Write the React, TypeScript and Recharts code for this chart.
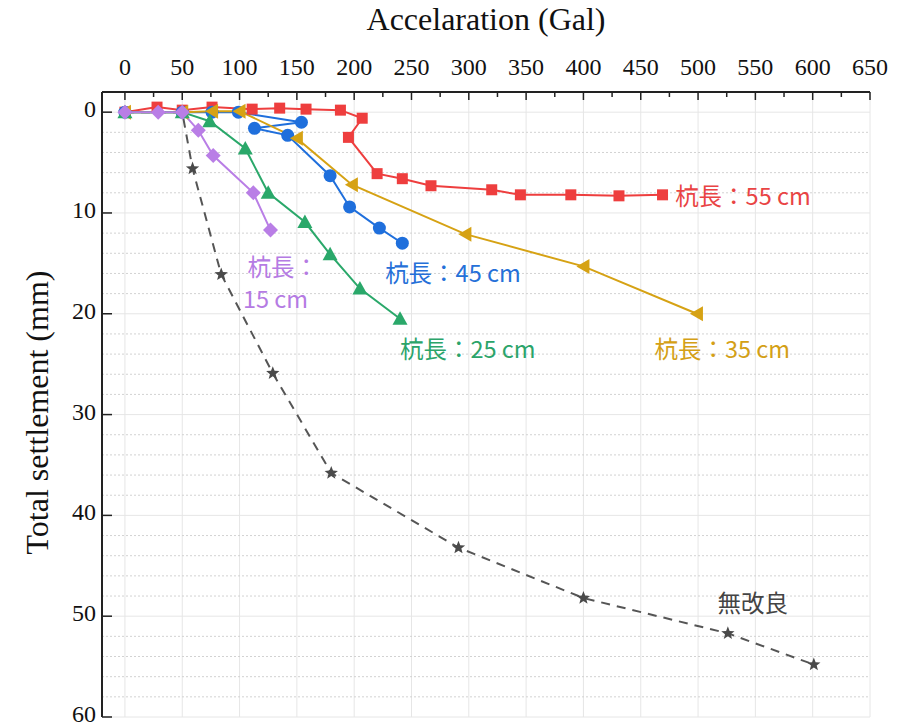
import React from 'react';
import {
  ComposedChart,
  Line,
  XAxis,
  YAxis,
  CartesianGrid,
  ReferenceDot,
} from 'recharts';

// acceleration (Gal) and total settlement (mm) per pile length
const pile55Acc = [0, 28, 50, 76, 111, 135, 158, 188, 207, 195, 220, 242, 267, 320, 345, 389, 431, 469];
const pile55Set = [0, -0.5, -0.2, -0.5, -0.3, -0.4, -0.3, -0.2, 0.6, 2.5, 6.1, 6.6, 7.3, 7.7, 8.2, 8.2, 8.3, 8.2];

const pile45Acc = [0, 50, 76, 99, 154, 113, 142, 179, 196, 222, 242];
const pile45Set = [0, 0, 0, 0, 1.0, 1.6, 2.3, 6.3, 9.4, 11.5, 13.0];

const pile35Acc = [0, 50, 76, 100, 150, 198, 297, 400, 499];
const pile35Set = [0, 0, -0.1, -0.1, 2.6, 7.2, 12.1, 15.3, 20.0];

const pile25Acc = [0, 50, 74, 105, 125, 157, 179, 205, 240];
const pile25Set = [0, 0, 0.9, 3.6, 8.0, 10.9, 14.1, 17.5, 20.5];

const pile15Acc = [0, 29, 50, 64, 77, 112, 127];
const pile15Set = [0, 0, 0, 1.8, 4.3, 8.0, 11.7];

const noneAcc = [0, 50, 59, 84, 129, 180, 291, 400, 526, 601];
const noneSet = [0, 0, 5.6, 16.1, 25.9, 35.8, 43.2, 48.2, 51.7, 54.8];

// axis ticks
const accTicks = [0, 25, 50, 75, 100, 125, 150, 175, 200, 225, 250, 275, 300, 325, 350, 375, 400, 425, 450, 475, 500, 525, 550, 575, 600, 625, 650];
const accGrid = [0, 50, 100, 150, 200, 250, 300, 350, 400, 450, 500, 550, 600, 650];
const setTicks = [0, 10, 20, 30, 40, 50, 60];
const setMinor = [2, 4, 6, 8, 12, 14, 16, 18, 22, 24, 26, 28, 32, 34, 36, 38, 42, 44, 46, 48, 52, 54, 56, 58];

// in-plot annotations (anchored in data units)
const noteText = ['杭長：55 cm', '杭長：45 cm', '杭長：', '15 cm', '杭長：25 cm', '杭長：35 cm', '無改良'];
const noteAcc = [480, 227, 107, 103, 240, 462, 517];
const noteSet = [8.2, 15.9, 15.3, 18.4, 23.4, 23.4, 48.6];
const noteColor = ['#e94444', '#2570d8', '#b57be3', '#b57be3', '#2ba46a', '#d4a016', '#444444'];

const toPoints = (acc: number[], set: number[]) => acc.map((a, i) => ({ x: a, y: set[i] }));

const RED = '#ee3e3e';
const BLUE = '#1f6fdc';
const GOLD = '#d6a214';
const GREEN = '#2aa86a';
const PURPLE = '#b97ee6';
const GRAY = '#4a4a4a';

const serif = 'Liberation Serif, DejaVu Serif, Times New Roman, serif';
const cjk = 'Noto Sans CJK JP, Noto Sans, sans-serif';

const square = (color: string) => (p: any) => (
  <rect key={`s-${p.index}`} x={p.cx - 5.5} y={p.cy - 5.5} width={11} height={11} fill={color} />
);
const circle = (color: string) => (p: any) => (
  <circle key={`c-${p.index}`} cx={p.cx} cy={p.cy} r={6.5} fill={color} />
);
const leftTri = (color: string) => (p: any) => (
  <polygon key={`l-${p.index}`} points={`${p.cx - 7},${p.cy} ${p.cx + 6},${p.cy - 7.5} ${p.cx + 6},${p.cy + 7.5}`} fill={color} />
);
const upTri = (color: string) => (p: any) => (
  <polygon key={`u-${p.index}`} points={`${p.cx},${p.cy - 7.5} ${p.cx - 7.5},${p.cy + 6} ${p.cx + 7.5},${p.cy + 6}`} fill={color} />
);
const diamond = (color: string) => (p: any) => (
  <polygon key={`d-${p.index}`} points={`${p.cx},${p.cy - 7.5} ${p.cx + 7.5},${p.cy} ${p.cx},${p.cy + 7.5} ${p.cx - 7.5},${p.cy}`} fill={color} />
);
const star = (color: string) => (p: any) => {
  const pts: string[] = [];
  for (let k = 0; k < 10; k++) {
    const r = k % 2 === 0 ? 7 : 3;
    const ang = -Math.PI / 2 + (k * Math.PI) / 5;
    pts.push(`${p.cx + r * Math.cos(ang)},${p.cy + r * Math.sin(ang)}`);
  }
  return <polygon key={`st-${p.index}`} points={pts.join(' ')} fill={color} />;
};

const TopTick = (props: any) => {
  const { x, y, payload } = props;
  const major = payload.value % 50 === 0;
  return (
    <g>
      <line x1={x} y1={y} x2={x} y2={y + (major ? 8 : 5)} stroke="#222" strokeWidth={1.5} />
      {major && (
        <text x={x} y={y - 17} textAnchor="middle" style={{ fontFamily: serif }} fontSize={24} fill="#111">
          {payload.value}
        </text>
      )}
    </g>
  );
};

const LeftTick = (props: any) => {
  const { x, y, payload } = props;
  return (
    <g>
      <line x1={x} y1={y} x2={x + 10} y2={y} stroke="#222" strokeWidth={1.5} />
      <text x={x - 6} y={y + 5} textAnchor="end" style={{ fontFamily: serif }} fontSize={24} fill="#111">
        {payload.value}
      </text>
    </g>
  );
};

const App = () => {
  return (
    <div style={{ position: 'absolute', left: 0, top: 0, background: '#fff' }}>
      <ComposedChart width={897} height={726} margin={{ top: 0, right: 27, bottom: 9, left: 0 }}>
        <CartesianGrid stroke="#e6e6e6" strokeWidth={1} verticalValues={accGrid} horizontalValues={setTicks} />
        <CartesianGrid stroke="#d2d2d2" strokeDasharray="2 2" vertical={false} horizontalValues={setMinor} />

        <XAxis
          type="number"
          dataKey="x"
          orientation="top"
          height={92}
          domain={[-20, 650]}
          ticks={accTicks}
          interval={0}
          allowDataOverflow
          tickSize={0}
          tickMargin={0}
          tickLine={false}
          axisLine={{ stroke: '#222', strokeWidth: 2 }}
          tick={<TopTick />}
          label={{
            content: (p: any) => (
              <text
                x={p.viewBox.x + p.viewBox.width / 2}
                y={p.viewBox.y + 30}
                textAnchor="middle"
                style={{ fontFamily: serif }}
                fontSize={32}
                fill="#111"
              >
                Accelaration (Gal)
              </text>
            ),
          }}
        />
        <YAxis
          type="number"
          dataKey="y"
          width={102}
          domain={[-2, 60]}
          reversed
          ticks={setTicks}
          interval={0}
          allowDataOverflow
          tickSize={0}
          tickMargin={0}
          tickLine={false}
          axisLine={{ stroke: '#222', strokeWidth: 2 }}
          tick={<LeftTick />}
          label={{
            content: (p: any) => {
              const cx = p.viewBox.x + 48;
              const cy = p.viewBox.y + p.viewBox.height / 2 + 8;
              return (
                <text
                  x={cx}
                  y={cy}
                  transform={`rotate(-90, ${cx}, ${cy})`}
                  textAnchor="middle"
                  style={{ fontFamily: serif }}
                  fontSize={32}
                  fill="#111"
                >
                  Total settlement (mm)
                </text>
              );
            },
          }}
        />
        <XAxis
          xAxisId="frame"
          type="number"
          orientation="bottom"
          height={0}
          domain={[-20, 650]}
          tick={false}
          tickLine={false}
          axisLine={{ stroke: '#222', strokeWidth: 2 }}
        />
        <YAxis
          yAxisId="frame"
          type="number"
          orientation="right"
          width={0}
          domain={[-2, 60]}
          tick={false}
          tickLine={false}
          axisLine={{ stroke: '#222', strokeWidth: 2 }}
        />

        <Line
          data={toPoints(noneAcc, noneSet)}
          dataKey="y"
          type="linear"
          stroke="#555"
          strokeWidth={2}
          strokeDasharray="9 7"
          dot={star(GRAY)}
          isAnimationActive={false}
        />
        <Line
          data={toPoints(pile55Acc, pile55Set)}
          dataKey="y"
          type="linear"
          stroke={RED}
          strokeWidth={2}
          dot={square(RED)}
          isAnimationActive={false}
        />
        <Line
          data={toPoints(pile45Acc, pile45Set)}
          dataKey="y"
          type="linear"
          stroke={BLUE}
          strokeWidth={2}
          dot={circle(BLUE)}
          isAnimationActive={false}
        />
        <Line
          data={toPoints(pile35Acc, pile35Set)}
          dataKey="y"
          type="linear"
          stroke={GOLD}
          strokeWidth={2}
          dot={leftTri(GOLD)}
          isAnimationActive={false}
        />
        <Line
          data={toPoints(pile25Acc, pile25Set)}
          dataKey="y"
          type="linear"
          stroke={GREEN}
          strokeWidth={2}
          dot={upTri(GREEN)}
          isAnimationActive={false}
        />
        <Line
          data={toPoints(pile15Acc, pile15Set)}
          dataKey="y"
          type="linear"
          stroke={PURPLE}
          strokeWidth={2}
          dot={diamond(PURPLE)}
          isAnimationActive={false}
        />

        {noteText.map((t, i) => (
          <ReferenceDot
            key={`note-${i}`}
            x={noteAcc[i]}
            y={noteSet[i]}
            r={0}
            shape={(p: any) => (
              <text
                x={p.cx}
                y={p.cy}
                dominantBaseline="central"
                style={{ fontFamily: cjk }}
                fontSize={23.5}
                fill={noteColor[i]}
              >
                {t}
              </text>
            )}
          />
        ))}
      </ComposedChart>
    </div>
  );
};

export default App;
